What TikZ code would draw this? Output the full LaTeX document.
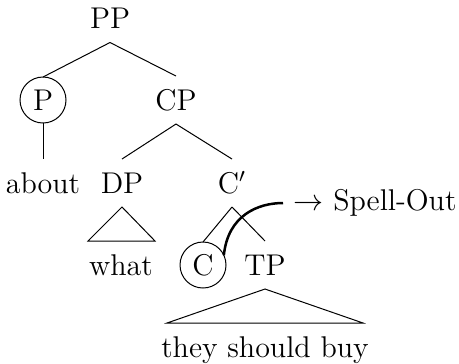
\documentclass[tikz,border=0pt]{standalone}
\usetikzlibrary{calc}
\begin{document}
\begin{tikzpicture}[x=0.4pt,y=-0.4pt,font=\fontsize{12}{14}\selectfont,
    cat/.style={inner sep=0pt,outer sep=5.5pt,text height=8.2pt,text depth=0pt},
    circ/.style={draw,circle,minimum size=18.4pt,inner sep=0pt,outer sep=0pt}]
    \useasboundingbox (0,0) rectangle (459,363);
    % categories
    \node[cat] (pp) at (110,18.5) {PP};
    \node[circ] (p) at (43,100) {P};
    \node[cat] (cp) at (176,100) {CP};
    \node[cat] (about) at (43,183) {about};
    \node[cat] (dp) at (122,183) {DP};
    \node[cat] (cbar) at (232,183) {C$'$};
    \node[cat] (what) at (121,265) {what};
    \node[circ] (c) at (203,265) {C};
    \node[cat] (tp) at (265,265) {TP};
    \node[cat] (tsb) at (265,347) {they should buy};
    \node[inner sep=0pt,anchor=east] (spell) at (457,203) {$\rightarrow$ Spell-Out};
    % branches
    \draw (pp.south) -- (p.north);
    \draw (pp.south) -- (cp.north);
    \draw (p.south) -- (about.north);
    \draw (cp.south) -- (dp.north);
    \draw (cp.south) -- (cbar.north);
    \draw (cbar.south) -- (c.north);
    \draw (cbar.south) -- (tp.north);
    % triangles
    \draw (dp.south) -- ($(what.north)+(-33,0)$) -- ($(what.north)+(34,0)$) -- cycle;
    \draw (tp.south) -- ($(tsb.north)+(-98,0)$) -- ($(tsb.north)+(98,0)$) -- cycle;
    % spell-out curve
    \draw[line width=1pt,shorten >=4pt] (c.25) .. controls +(4,-40) and +(-35,0) .. (spell.west);
\end{tikzpicture}
\end{document}
